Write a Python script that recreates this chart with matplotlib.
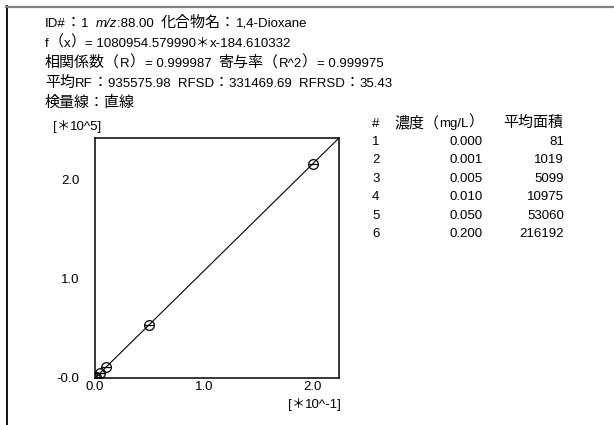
import matplotlib
matplotlib.use("Agg")
import matplotlib.pyplot as plt
from matplotlib.lines import Line2D

# calibration data
conc = [0.000, 0.001, 0.005, 0.010, 0.050, 0.200]      # mg/L
area = [81, 1019, 5099, 10975, 53060, 216192]
slope = 1080954.579990
intercept = -184.610332
x_max = 0.224

x_ticks = [0.0, 1.0, 2.0]
x_labels = ['0.0', '1.0', '2.0']
y_ticks = [0.0, 1.0, 2.0]
y_labels = ['-0.0', '1.0', '2.0']

header_lines = [
    [("ID#：1  ", None), ("m/z", 'italic'), (":88.00  化合物名：1,4-Dioxane", None)],
    [("f（x）= 1080954.579990＊x-184.610332", None)],
    [("相関係数（R）= 0.999987  寄与率（R^2）= 0.999975", None)],
    [("平均RF：935575.98  RFSD：331469.69  RFRSD：35.43", None)],
    [("検量線：直線", None)],
]
table_cols = ["#", "濃度（mg/L）", "平均面積"]

W, H = 614, 425
fs = 9.5        # latin text
fs_cjk = 10.8   # japanese / full-width text
fig = plt.figure(figsize=(W / 100, H / 100), dpi=100)
fig.canvas.draw()
rend = fig.canvas.get_renderer()


def fx(px):
    return px / W


def fy(py):
    return 1 - py / H


def is_cjk(ch):
    return ord(ch) >= 0x2E80


def split_runs(s):
    runs = []
    for ch in s:
        k = is_cjk(ch)
        if runs and runs[-1][1] == k:
            runs[-1][0] += ch
        else:
            runs.append([ch, k])
    return runs


def draw_mixed(x, y, parts, ha='left'):
    # y is the baseline in pixels from the top
    pieces = []
    for txt, style in parts:
        for run, cjk in split_runs(txt):
            pieces.append((run, cjk, style))
    arts = []
    for run, cjk, style in pieces:
        size = fs
        if cjk and run != "＊":
            size = fs_cjk
        t = fig.text(0, fy(y), run, va='baseline', fontsize=size,
                     family='Noto Sans CJK JP' if cjk else 'Liberation Sans',
                     style=style or 'normal')
        arts.append(t)
    widths = [a.get_window_extent(rend).width for a in arts]
    if ha == 'right':
        x -= sum(widths)
    for a, w in zip(arts, widths):
        a.set_x(fx(x))
        x += w


# frame lines
fig.add_artist(Line2D([fx(6.5), fx(6.5)], [fy(6), fy(425)], color='black', lw=1.3))
fig.add_artist(Line2D([fx(6), 1], [fy(6.5), fy(6.5)], color='#808080', lw=1.6))

for i, parts in enumerate(header_lines):
    draw_mixed(45, 27 + 20 * i, parts)

# table
draw_mixed(372, 127, [(table_cols[0], None)])
draw_mixed(394, 127, [(table_cols[1], None)])
draw_mixed(503, 127, [(table_cols[2], None)])
for i, (c, a) in enumerate(zip(conc, area)):
    yy = 145 + 18.4 * i
    draw_mixed(372, yy, [(str(i + 1), None)])
    draw_mixed(483, yy, [(f"{c:.3f}", None)], ha='right')
    draw_mixed(564, yy, [(str(a), None)], ha='right')

draw_mixed(53, 130, [("[＊10^5]", None)])
draw_mixed(288, 408, [("[＊10^-1]", None)])

# plot
ax = fig.add_axes([fx(95), fy(378), fx(339) - fx(95), (378 - 138) / H])
xs = [c * 10 for c in conc]
ys = [a / 1e5 for a in area]
y_lo = intercept / 1e5
y_hi = (slope * x_max + intercept) / 1e5
ax.plot([0, x_max * 10], [y_lo, y_hi], color='black', lw=0.8)
ax.plot(xs, ys, 'o', mfc='none', mec='black', ms=7, mew=0.9)
ax.plot(xs, ys, '_', color='black', ms=7, mew=0.9)
ax.set_xlim(0, x_max * 10)
ax.set_ylim(y_lo, y_hi)
ax.set_xticks(x_ticks)
ax.set_xticklabels(x_labels, family='Liberation Sans')
ax.set_yticks(y_ticks)
ax.set_yticklabels(y_labels, family='Liberation Sans')
ax.tick_params(length=0, labelsize=fs)
ax.tick_params(axis='y', pad=11)
ax.tick_params(axis='x', pad=2)
for s in ax.spines.values():
    s.set_linewidth(1.1)

fig.savefig("out.png", dpi=100)
